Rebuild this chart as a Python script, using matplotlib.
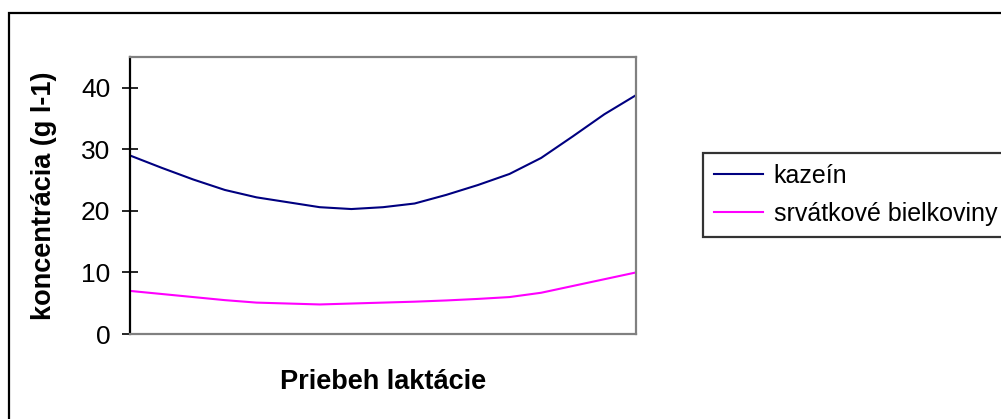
import matplotlib
matplotlib.use("Agg")
import matplotlib.pyplot as plt
from matplotlib.patches import Rectangle
import numpy as np

plt.rcParams['font.family'] = ['Liberation Sans', 'DejaVu Sans']

# Concentration over the course of lactation (g l-1)
stage = np.arange(17)
kazein = [29.0, 27.0, 25.1, 23.4, 22.2, 21.4, 20.6, 20.3, 20.6, 21.2,
          22.6, 24.2, 26.0, 28.6, 32.1, 35.7, 38.8]
srvatka = [7.0, 6.5, 6.0, 5.5, 5.1, 4.95, 4.8, 4.95, 5.1, 5.25,
           5.45, 5.7, 6.0, 6.7, 7.8, 8.9, 10.0]
series_labels = ['kazeín', 'srvátkové bielkoviny']
y_ticks = [0, 10, 20, 30, 40]

W, H = 1001, 419
fig = plt.figure(figsize=(W / 100, H / 100), dpi=100)

# chart frame
fig.patches.append(Rectangle((9 / W, -0.1), 1.2, 1 - 13.5 / H + 0.1,
                             transform=fig.transFigure, fill=False,
                             edgecolor='black', linewidth=1.6, clip_on=False))

ax = fig.add_axes([130 / W, 1 - 334 / H, 506 / W, 277 / H])
ax.plot(stage, kazein, color='#000080', linewidth=1.5, label=series_labels[0])
ax.plot(stage, srvatka, color='#FF00FF', linewidth=1.5, label=series_labels[1])

ax.set_xlim(stage[0], stage[-1])
ax.set_ylim(0, 45)
ax.set_yticks(y_ticks)
ax.set_xticks([])
ax.tick_params(axis='y', direction='inout', length=11.5, width=1.2,
               labelsize=19, pad=8.5, colors='black')

for side in ('top', 'right', 'bottom'):
    ax.spines[side].set_color('#808080')
    ax.spines[side].set_linewidth(1.6)
ax.spines['left'].set_color('black')
ax.spines['left'].set_linewidth(1.6)

ax.set_ylabel('koncentrácia (g l-1)', fontsize=19.5, fontweight='bold', labelpad=17)
ax.set_xlabel('Priebeh laktácie', fontsize=19.5, fontweight='bold', labelpad=25)

leg = fig.legend(loc='upper left', bbox_to_anchor=(703 / W, 1 - 153 / H),
                 bbox_transform=fig.transFigure, borderaxespad=0,
                 fontsize=18, frameon=True, fancybox=False, edgecolor='black',
                 handlelength=1.95, handletextpad=0.42, borderpad=0.45,
                 labelspacing=0.55)
leg.get_frame().set_linewidth(1.6)

fig.savefig('out.png', dpi=100)
